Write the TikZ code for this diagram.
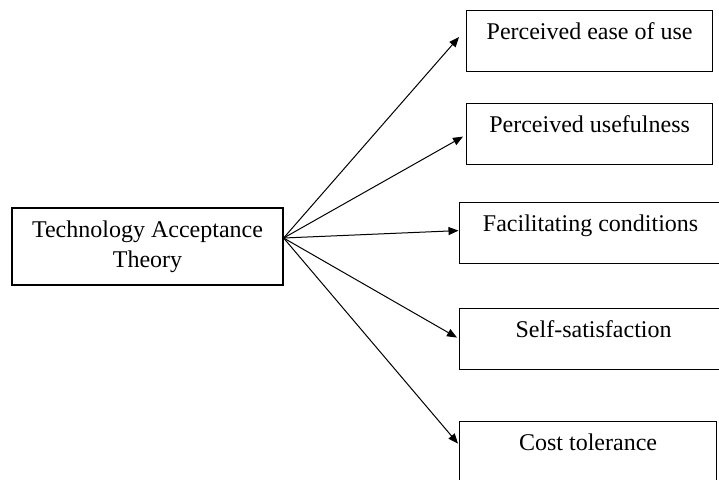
\documentclass[tikz,border=0pt]{standalone}
\usepackage{fontspec}
\setmainfont{Liberation Serif}
\usetikzlibrary{arrows.meta,calc}

\tikzset{
  theorybox/.style={draw,line width=1.2pt,minimum width=271pt,minimum height=77pt,align=center,inner sep=0pt,font=\fontsize{24}{30}\selectfont},
  factor/.style={draw,line width=1.2pt,anchor=north west,inner xsep=0pt,inner ysep=0pt,text height=29pt,text depth=32pt,font=\fontsize{24}{30}\selectfont},
  link/.style={line width=1pt,-{Triangle[length=10pt,width=8pt]}}
}

\begin{document}
\begin{tikzpicture}[x=1pt,y=-1pt]

    \useasboundingbox (0,0) rectangle (719,479);
    \clip (0,0) rectangle (719,479);

    \node[theorybox] (theory) at (147.5,246.5) {Technology Acceptance\\Theory};

	\node[factor,minimum width=246pt] (ease) at (466,10) {Perceived ease of use};
	\node[factor,minimum width=246pt] (useful) at (466,103) {Perceived usefulness};
	\node[factor,minimum width=262pt] (facil) at (459,202) {Facilitating conditions};
	\node[factor,minimum width=268pt] (selfsat) at (459,308) {Self-satisfaction};
	\node[factor,minimum width=257pt] (cost) at (459,421) {Cost tolerance};

    \coordinate (hub) at ([yshift=8.5pt]theory.east); % common start

    \draw[link] (hub) -- ([xshift=-7pt,yshift=4pt]ease.west);
    \draw[link] (hub) -- ([xshift=-3pt,yshift=-2.5pt]useful.west);
    \draw[link] (hub) -- ([xshift=-0.5pt,yshift=2.5pt]facil.west);
    \draw[link] (hub) -- ([xshift=-2pt,yshift=1.5pt]selfsat.west);
    \draw[link] (hub) -- ([xshift=-1pt,yshift=8.5pt]cost.west);

  \end{tikzpicture}
\end{document}
